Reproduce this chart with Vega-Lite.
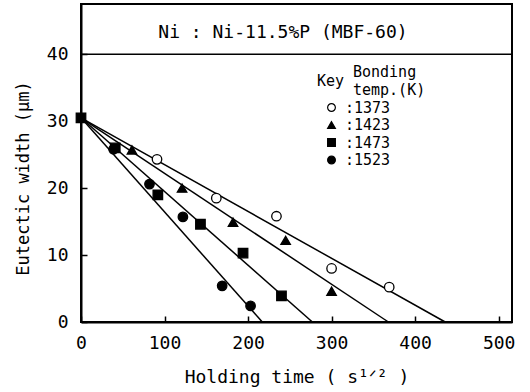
{
  "$schema": "https://vega.github.io/schema/vega-lite/v6.json",
  "width": 431,
  "height": 318,
  "autosize": {"type": "none"},
  "padding": {"left": 81, "top": 4, "right": 18, "bottom": 70},
  "background": "white",
  "config": {
    "view": {"stroke": "black", "strokeWidth": 2},
    "font": "DejaVu Sans Mono",
    "axis": {"grid": false, "domainColor": "black", "tickColor": "black", "labelColor": "black", "titleColor": "black", "labelFont": "DejaVu Sans Mono", "titleFont": "DejaVu Sans Mono", "titleFontWeight": "normal", "domainWidth": 2, "tickWidth": 1.5, "labelFlush": false}
  },
  "datasets": {
    "points": [
      {"temp": "1373", "t": 91, "w": 24.3},
      {"temp": "1373", "t": 162, "w": 18.5},
      {"temp": "1373", "t": 234, "w": 15.8},
      {"temp": "1373", "t": 300, "w": 8.0},
      {"temp": "1373", "t": 369, "w": 5.2},
      {"temp": "1423", "t": 61, "w": 25.7},
      {"temp": "1423", "t": 121, "w": 20.0},
      {"temp": "1423", "t": 182, "w": 14.9},
      {"temp": "1423", "t": 245, "w": 12.2},
      {"temp": "1423", "t": 300, "w": 4.6},
      {"temp": "1473", "t": 0, "w": 30.5},
      {"temp": "1473", "t": 41, "w": 26.0},
      {"temp": "1473", "t": 92, "w": 19.0},
      {"temp": "1473", "t": 143, "w": 14.6},
      {"temp": "1473", "t": 194, "w": 10.3},
      {"temp": "1473", "t": 240, "w": 3.9},
      {"temp": "1523", "t": 39, "w": 25.8},
      {"temp": "1523", "t": 82, "w": 20.6},
      {"temp": "1523", "t": 122, "w": 15.7},
      {"temp": "1523", "t": 169, "w": 5.4},
      {"temp": "1523", "t": 203, "w": 2.4}
    ],
    "fits": [
      {"temp": "1373", "t": 0, "w": 30.5},
      {"temp": "1373", "t": 436, "w": 0},
      {"temp": "1423", "t": 0, "w": 30.5},
      {"temp": "1423", "t": 368, "w": 0},
      {"temp": "1473", "t": 0, "w": 30.5},
      {"temp": "1473", "t": 277, "w": 0},
      {"temp": "1523", "t": 0, "w": 30.5},
      {"temp": "1523", "t": 217, "w": 0}
    ]
  },
  "layer": [
    {
      "data": {"name": "fits"},
      "mark": {"type": "line", "color": "black", "strokeWidth": 1.5},
      "encoding": {
        "x": {"field": "t", "type": "quantitative", "scale": {"domain": [0, 516], "nice": false},
          "axis": {"values": [0, 100, 200, 300, 400, 500], "tickSize": -6, "labelPadding": 18, "labelFontSize": 18, "title": "Holding time ( s¹ᐟ² )", "titleFontSize": 18, "titlePadding": 16}},
        "y": {"field": "w", "type": "quantitative", "scale": {"domain": [0, 47.5], "nice": false},
          "axis": {"values": [0, 10, 20, 30, 40], "tickSize": -6, "labelPadding": 19, "labelFontSize": 18, "title": "Eutectic width (μm)", "titleFontSize": 17, "titleX": -49, "titleY": 174}},
        "detail": {"field": "temp"}
      }
    },
    {
      "data": {"values": [{"w": 40}]},
      "mark": {"type": "rule", "color": "black", "strokeWidth": 1.5},
      "encoding": {"y": {"field": "w", "type": "quantitative"}}
    },
    {
      "data": {"name": "points"},
      "mark": {"type": "point", "filled": true, "strokeWidth": 1.3, "opacity": 1, "size": 90},
      "encoding": {
        "x": {"field": "t", "type": "quantitative"},
        "y": {"field": "w", "type": "quantitative"},
        "shape": {"field": "temp", "type": "nominal", "scale": {"domain": ["1373", "1423", "1473", "1523"], "range": ["circle", "triangle-up", "square", "circle"]},
          "legend": {"orient": "none", "legendX": 243, "legendY": 96, "title": null, "padding": 0, "symbolSize": 60, "symbolStrokeWidth": 1.2, "labelFontSize": 15, "labelFont": "DejaVu Sans Mono", "labelColor": "black", "labelOffset": 6, "rowPadding": 1.5, "labelExpr": "':' + datum.label"}},
        "fill": {"field": "temp", "type": "nominal", "scale": {"domain": ["1373", "1423", "1473", "1523"], "range": ["white", "black", "black", "black"]}},
        "stroke": {"field": "temp", "type": "nominal", "scale": {"domain": ["1373", "1423", "1473", "1523"], "range": ["black", "black", "black", "black"]}}
      }
    },
    {
      "data": {"values": [{"label": "Ni : Ni-11.5%P (MBF-60)", "t": 241.8, "w": 43.2}]},
      "mark": {"type": "text", "color": "black", "baseline": "middle", "align": "center", "font": "DejaVu Sans Mono", "fontSize": 18},
      "encoding": {
        "x": {"field": "t", "type": "quantitative"},
        "y": {"field": "w", "type": "quantitative"},
        "text": {"field": "label"}
      }
    },
    {
      "data": {"values": [
        {"label": "Key", "t": 282.5, "w": 36.0},
        {"label": "Bonding", "t": 325.6, "w": 37.3},
        {"label": "temp.(K)", "t": 325.6, "w": 34.65}
      ]},
      "mark": {"type": "text", "color": "black", "baseline": "middle", "align": "left", "font": "DejaVu Sans Mono", "fontSize": 15},
      "encoding": {
        "x": {"field": "t", "type": "quantitative"},
        "y": {"field": "w", "type": "quantitative"},
        "text": {"field": "label"}
      }
    }
  ]
}
